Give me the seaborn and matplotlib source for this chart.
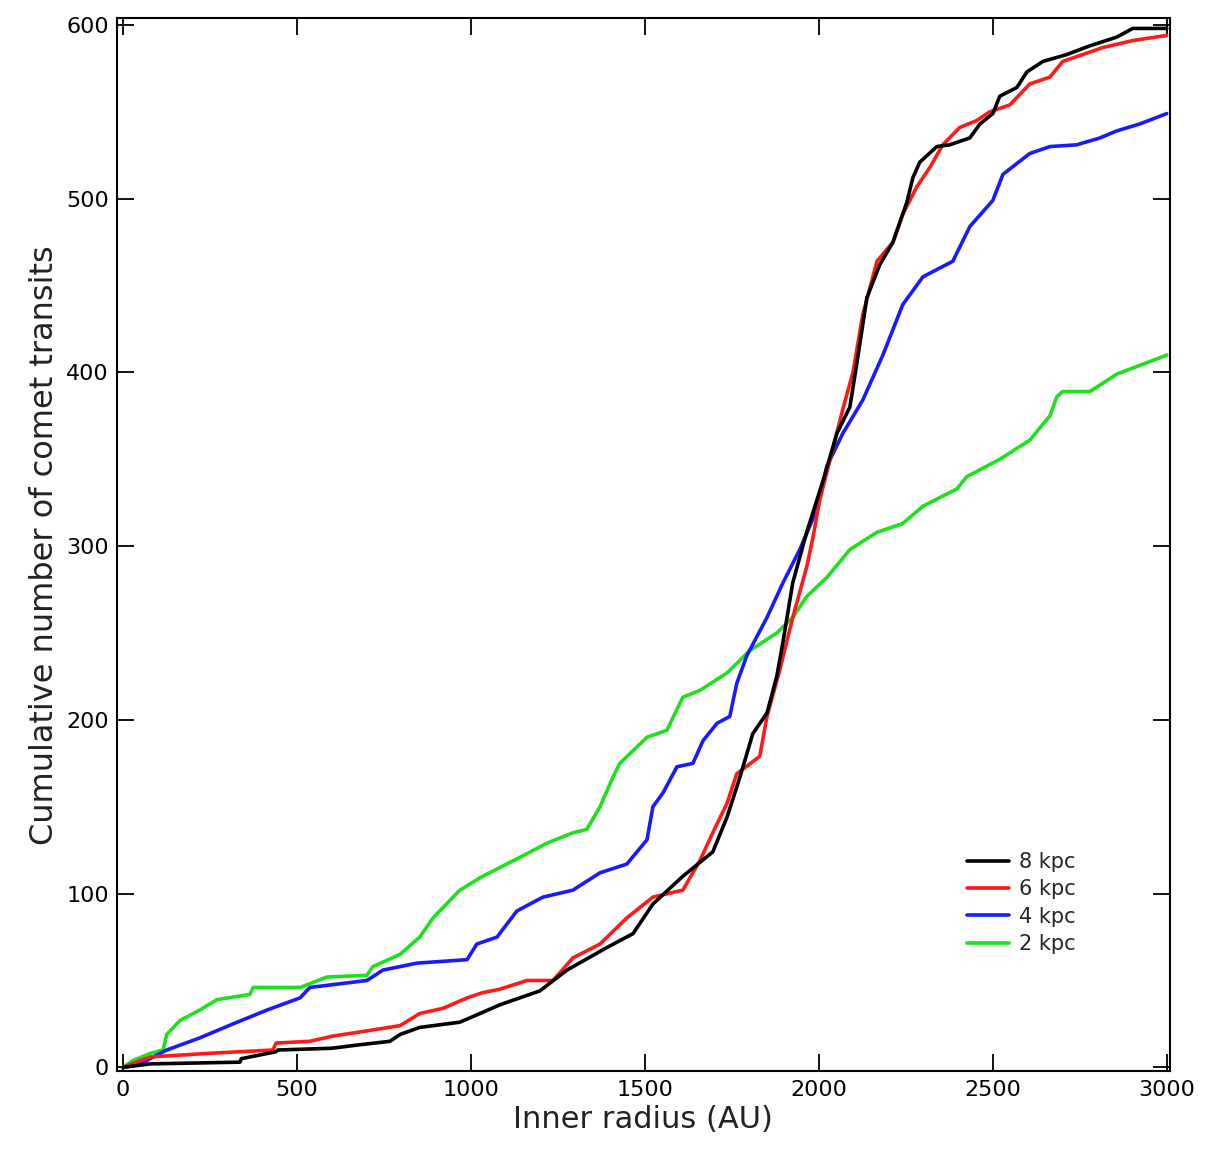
import matplotlib
matplotlib.use("Agg")
import matplotlib.pyplot as plt
import seaborn as sns
import pandas as pd

# ---- data ----
x_8kpc = [0, 78, 336, 340, 440, 445, 600, 680, 767, 797, 853, 968, 1026, 1083, 1198, 1276,
          1391, 1466, 1523, 1609, 1695, 1736, 1773, 1810, 1851, 1879, 1897, 1925, 1965, 2011,
          2052, 2089, 2109, 2138, 2175, 2213, 2253, 2270, 2290, 2339, 2376, 2434, 2463, 2500,
          2520, 2569, 2598, 2644, 2713, 2779, 2856, 2902, 3000]
y_8kpc = [0, 2, 3, 5, 9, 10, 11, 13, 15, 19, 23, 26, 31, 36, 44, 56,
          69, 77, 94, 110, 124, 144, 167, 192, 204, 225, 245, 279, 308, 337,
          365, 380, 405, 443, 462, 475, 498, 512, 521, 530, 531, 535, 543, 549,
          559, 564, 573, 579, 583, 588, 593, 598, 598]

x_6kpc = [0, 50, 80, 160, 240, 431, 440, 537, 603, 701, 796, 853, 920, 989, 1034, 1083,
          1161, 1236, 1293, 1371, 1448, 1523, 1609, 1658, 1695, 1736, 1764, 1830, 1851, 1888,
          1925, 1965, 1983, 2003, 2040, 2069, 2098, 2126, 2167, 2213, 2241, 2282, 2319, 2356,
          2405, 2454, 2491, 2549, 2606, 2664, 2701, 2759, 2816, 2902, 3000]
y_6kpc = [0, 4, 6, 7, 8, 10, 14, 15, 18, 21, 24, 31, 34, 40, 43, 45,
          50, 50, 63, 71, 86, 98, 102, 119, 135, 152, 169, 179, 202, 229,
          259, 288, 305, 327, 356, 379, 400, 433, 464, 475, 491, 507, 518, 531,
          541, 545, 550, 554, 566, 570, 579, 583, 587, 591, 594]

x_4kpc = [0, 49, 126, 221, 316, 414, 509, 537, 701, 747, 845, 989, 1017, 1075, 1132, 1207,
          1293, 1371, 1448, 1506, 1523, 1552, 1592, 1638, 1667, 1707, 1744, 1764, 1793, 1851,
          1897, 1945, 1994, 2023, 2069, 2126, 2184, 2241, 2299, 2385, 2434, 2500, 2529, 2606,
          2664, 2741, 2808, 2856, 2922, 3000]
y_4kpc = [0, 2, 10, 17, 25, 33, 40, 46, 50, 56, 60, 62, 71, 75, 90, 98,
          102, 112, 117, 131, 150, 158, 173, 175, 188, 198, 202, 221, 237, 259,
          279, 298, 321, 346, 365, 384, 410, 439, 455, 464, 484, 499, 514, 526,
          530, 531, 535, 539, 543, 549]

x_2kpc = [0, 29, 78, 115, 126, 164, 221, 270, 365, 374, 509, 586, 701, 718, 796, 853,
          891, 968, 1034, 1083, 1161, 1218, 1293, 1333, 1371, 1408, 1428, 1506, 1563, 1609,
          1658, 1736, 1802, 1879, 1925, 1965, 2023, 2089, 2167, 2241, 2299, 2397, 2425, 2520,
          2606, 2664, 2684, 2701, 2779, 2856, 3000]
y_2kpc = [0, 4, 8, 10, 19, 27, 33, 39, 42, 46, 46, 52, 53, 58, 65, 75,
          86, 102, 110, 115, 123, 129, 135, 137, 150, 167, 175, 190, 194, 213,
          217, 227, 240, 250, 259, 271, 282, 298, 308, 313, 323, 333, 340, 350,
          361, 375, 386, 389, 389, 399, 410]

series_names = ["8 kpc", "6 kpc", "4 kpc", "2 kpc"]
series_x = [x_8kpc, x_6kpc, x_4kpc, x_2kpc]
series_y = [y_8kpc, y_6kpc, y_4kpc, y_2kpc]
colors = {"8 kpc": "#000000", "6 kpc": "#ff1a1a", "4 kpc": "#1a1aff", "2 kpc": "#1ee01e"}

x_ticks = [0, 500, 1000, 1500, 2000, 2500, 3000]
y_ticks = [0, 100, 200, 300, 400, 500, 600]

frames = []
for name, xs, ys in zip(series_names, series_x, series_y):
    frames.append(pd.DataFrame({"radius": xs, "count": ys, "series": name}))
df = pd.concat(frames, ignore_index=True)

sns.set_theme(style="ticks")
plt.rcParams["font.family"] = ["DejaVu Sans"]

fig = plt.figure(figsize=(12.07, 11.62), dpi=100)
ax = fig.add_axes([0.097, 0.078, 0.872, 0.9065])

for name in series_names[::-1]:
    sub = df[df["series"] == name]
    sns.lineplot(data=sub, x="radius", y="count", ax=ax, color=colors[name],
                 linewidth=2.6, estimator=None, sort=False, label=name)

ax.set_xlim(-17, 3008)
ax.set_ylim(-2.3, 604)
ax.set_xticks(x_ticks)
ax.set_yticks(y_ticks)
ax.tick_params(direction="in", length=12, width=1.3, top=True, right=True,
               labelsize=16, colors="black", pad=6)
for s in ax.spines.values():
    s.set_linewidth(1.5)
    s.set_color("black")

ax.set_xlabel("Inner radius (AU)", fontsize=22, labelpad=4, color="#222222")
ax.set_ylabel("Cumulative number of comet transits", fontsize=23, labelpad=4, color="#222222")

handles, labels = ax.get_legend_handles_labels()
order = [labels.index(n) for n in series_names]
ax.legend([handles[i] for i in order], [labels[i] for i in order],
          loc="upper left", bbox_to_anchor=(0.79, 0.226), frameon=False,
          fontsize=15, handlelength=2.0, handletextpad=0.5, labelspacing=0.35)

fig.savefig("out.png", dpi=100)
